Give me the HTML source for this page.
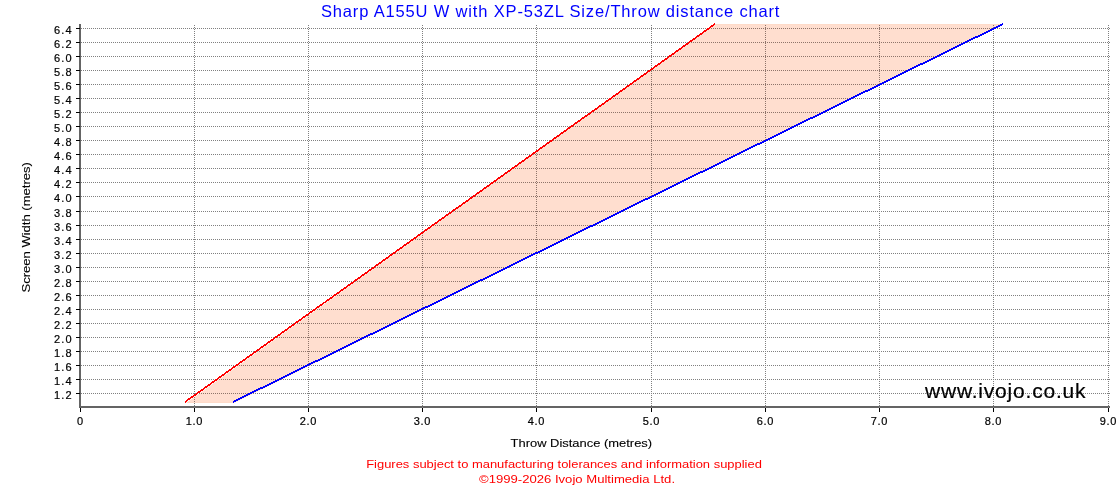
<!DOCTYPE html>
<html><head><meta charset="utf-8"><title>Throw distance chart</title>
<style>html,body{margin:0;padding:0;background:#fff;} body{width:1120px;height:500px;overflow:hidden;font-family:"Liberation Sans",sans-serif;} svg{display:block;will-change:transform;}</style>
</head><body>
<svg width="1120" height="500" viewBox="0 0 1120 500">
<defs>
<pattern id="hd" patternUnits="userSpaceOnUse" x="1" y="0" width="2" height="1"><rect x="0" y="0" width="1" height="1" fill="#808080"/></pattern>
<pattern id="vd" patternUnits="userSpaceOnUse" x="0" y="1" width="1" height="2"><rect x="0" y="0" width="1" height="1" fill="#808080"/></pattern>
<pattern id="hd2" patternUnits="userSpaceOnUse" x="1" y="0" width="2" height="1"><rect x="0" y="0" width="1" height="1" fill="#8e746a"/></pattern>
<pattern id="vd2" patternUnits="userSpaceOnUse" x="0" y="1" width="1" height="2"><rect x="0" y="0" width="1" height="1" fill="#8e746a"/></pattern>
<clipPath id="fc"><polygon points="186,403 715,24 1003,24 234,403"/></clipPath>
</defs>
<rect x="0" y="0" width="1120" height="500" fill="#ffffff"/>
<polygon points="186,403 715,24 1003,24 234,403" fill="#FFDECF"/>
<rect x="715" y="24" width="288" height="1" fill="#FEDBC9"/>
<rect x="187" y="402" width="47" height="1" fill="#FEDBC9"/>
<rect x="79" y="24" width="2" height="384" fill="#646464"/>
<rect x="79" y="406" width="1031" height="2" fill="#646464"/>
<g><rect x="81" y="393" width="1029" height="1" fill="url(#hd)"/><rect x="81" y="379" width="1029" height="1" fill="url(#hd)"/><rect x="81" y="365" width="1029" height="1" fill="url(#hd)"/><rect x="81" y="351" width="1029" height="1" fill="url(#hd)"/><rect x="81" y="337" width="1029" height="1" fill="url(#hd)"/><rect x="81" y="323" width="1029" height="1" fill="url(#hd)"/><rect x="81" y="309" width="1029" height="1" fill="url(#hd)"/><rect x="81" y="295" width="1029" height="1" fill="url(#hd)"/><rect x="81" y="281" width="1029" height="1" fill="url(#hd)"/><rect x="81" y="267" width="1029" height="1" fill="url(#hd)"/><rect x="81" y="253" width="1029" height="1" fill="url(#hd)"/><rect x="81" y="239" width="1029" height="1" fill="url(#hd)"/><rect x="81" y="225" width="1029" height="1" fill="url(#hd)"/><rect x="81" y="211" width="1029" height="1" fill="url(#hd)"/><rect x="81" y="196" width="1029" height="1" fill="url(#hd)"/><rect x="81" y="182" width="1029" height="1" fill="url(#hd)"/><rect x="81" y="168" width="1029" height="1" fill="url(#hd)"/><rect x="81" y="154" width="1029" height="1" fill="url(#hd)"/><rect x="81" y="140" width="1029" height="1" fill="url(#hd)"/><rect x="81" y="126" width="1029" height="1" fill="url(#hd)"/><rect x="81" y="112" width="1029" height="1" fill="url(#hd)"/><rect x="81" y="98" width="1029" height="1" fill="url(#hd)"/><rect x="81" y="84" width="1029" height="1" fill="url(#hd)"/><rect x="81" y="70" width="1029" height="1" fill="url(#hd)"/><rect x="81" y="56" width="1029" height="1" fill="url(#hd)"/><rect x="81" y="42" width="1029" height="1" fill="url(#hd)"/><rect x="81" y="28" width="1029" height="1" fill="url(#hd)"/><rect x="194" y="25" width="1" height="383" fill="url(#vd)"/><rect x="308" y="25" width="1" height="383" fill="url(#vd)"/><rect x="422" y="25" width="1" height="383" fill="url(#vd)"/><rect x="536" y="25" width="1" height="383" fill="url(#vd)"/><rect x="651" y="25" width="1" height="383" fill="url(#vd)"/><rect x="765" y="25" width="1" height="383" fill="url(#vd)"/><rect x="879" y="25" width="1" height="383" fill="url(#vd)"/><rect x="993" y="25" width="1" height="383" fill="url(#vd)"/><rect x="1108" y="25" width="1" height="383" fill="url(#vd)"/></g>
<g clip-path="url(#fc)"><rect x="81" y="393" width="1029" height="1" fill="url(#hd2)"/><rect x="81" y="379" width="1029" height="1" fill="url(#hd2)"/><rect x="81" y="365" width="1029" height="1" fill="url(#hd2)"/><rect x="81" y="351" width="1029" height="1" fill="url(#hd2)"/><rect x="81" y="337" width="1029" height="1" fill="url(#hd2)"/><rect x="81" y="323" width="1029" height="1" fill="url(#hd2)"/><rect x="81" y="309" width="1029" height="1" fill="url(#hd2)"/><rect x="81" y="295" width="1029" height="1" fill="url(#hd2)"/><rect x="81" y="281" width="1029" height="1" fill="url(#hd2)"/><rect x="81" y="267" width="1029" height="1" fill="url(#hd2)"/><rect x="81" y="253" width="1029" height="1" fill="url(#hd2)"/><rect x="81" y="239" width="1029" height="1" fill="url(#hd2)"/><rect x="81" y="225" width="1029" height="1" fill="url(#hd2)"/><rect x="81" y="211" width="1029" height="1" fill="url(#hd2)"/><rect x="81" y="196" width="1029" height="1" fill="url(#hd2)"/><rect x="81" y="182" width="1029" height="1" fill="url(#hd2)"/><rect x="81" y="168" width="1029" height="1" fill="url(#hd2)"/><rect x="81" y="154" width="1029" height="1" fill="url(#hd2)"/><rect x="81" y="140" width="1029" height="1" fill="url(#hd2)"/><rect x="81" y="126" width="1029" height="1" fill="url(#hd2)"/><rect x="81" y="112" width="1029" height="1" fill="url(#hd2)"/><rect x="81" y="98" width="1029" height="1" fill="url(#hd2)"/><rect x="81" y="84" width="1029" height="1" fill="url(#hd2)"/><rect x="81" y="70" width="1029" height="1" fill="url(#hd2)"/><rect x="81" y="56" width="1029" height="1" fill="url(#hd2)"/><rect x="81" y="42" width="1029" height="1" fill="url(#hd2)"/><rect x="81" y="28" width="1029" height="1" fill="url(#hd2)"/><rect x="194" y="25" width="1" height="383" fill="url(#vd2)"/><rect x="308" y="25" width="1" height="383" fill="url(#vd2)"/><rect x="422" y="25" width="1" height="383" fill="url(#vd2)"/><rect x="536" y="25" width="1" height="383" fill="url(#vd2)"/><rect x="651" y="25" width="1" height="383" fill="url(#vd2)"/><rect x="765" y="25" width="1" height="383" fill="url(#vd2)"/><rect x="879" y="25" width="1" height="383" fill="url(#vd2)"/><rect x="993" y="25" width="1" height="383" fill="url(#vd2)"/><rect x="1108" y="25" width="1" height="383" fill="url(#vd2)"/></g>
<polygon points="185,401.0 715,23.0 715,25.0 185,403.0" fill="#ff0000" shape-rendering="crispEdges"/>
<polygon points="233,401.0 1003,23.0 1003,25.0 233,403.0" fill="#0000ff" shape-rendering="crispEdges"/>
<rect x="76" y="393" width="4" height="1" fill="#000"/>
<rect x="76" y="379" width="4" height="1" fill="#000"/>
<rect x="76" y="365" width="4" height="1" fill="#000"/>
<rect x="76" y="351" width="4" height="1" fill="#000"/>
<rect x="76" y="337" width="4" height="1" fill="#000"/>
<rect x="76" y="323" width="4" height="1" fill="#000"/>
<rect x="76" y="309" width="4" height="1" fill="#000"/>
<rect x="76" y="295" width="4" height="1" fill="#000"/>
<rect x="76" y="281" width="4" height="1" fill="#000"/>
<rect x="76" y="267" width="4" height="1" fill="#000"/>
<rect x="76" y="253" width="4" height="1" fill="#000"/>
<rect x="76" y="239" width="4" height="1" fill="#000"/>
<rect x="76" y="225" width="4" height="1" fill="#000"/>
<rect x="76" y="211" width="4" height="1" fill="#000"/>
<rect x="76" y="196" width="4" height="1" fill="#000"/>
<rect x="76" y="182" width="4" height="1" fill="#000"/>
<rect x="76" y="168" width="4" height="1" fill="#000"/>
<rect x="76" y="154" width="4" height="1" fill="#000"/>
<rect x="76" y="140" width="4" height="1" fill="#000"/>
<rect x="76" y="126" width="4" height="1" fill="#000"/>
<rect x="76" y="112" width="4" height="1" fill="#000"/>
<rect x="76" y="98" width="4" height="1" fill="#000"/>
<rect x="76" y="84" width="4" height="1" fill="#000"/>
<rect x="76" y="70" width="4" height="1" fill="#000"/>
<rect x="76" y="56" width="4" height="1" fill="#000"/>
<rect x="76" y="42" width="4" height="1" fill="#000"/>
<rect x="76" y="28" width="4" height="1" fill="#000"/>
<rect x="80" y="408" width="1" height="4" fill="#000"/>
<rect x="194" y="408" width="1" height="4" fill="#000"/>
<rect x="308" y="408" width="1" height="4" fill="#000"/>
<rect x="422" y="408" width="1" height="4" fill="#000"/>
<rect x="536" y="408" width="1" height="4" fill="#000"/>
<rect x="651" y="408" width="1" height="4" fill="#000"/>
<rect x="765" y="408" width="1" height="4" fill="#000"/>
<rect x="879" y="408" width="1" height="4" fill="#000"/>
<rect x="993" y="408" width="1" height="4" fill="#000"/>
<rect x="1108" y="408" width="1" height="4" fill="#000"/>
<text x="71.70" y="399.00" font-family="&quot;Liberation Sans&quot;, sans-serif" font-size="11" text-anchor="end" fill="#000" stroke="#000" stroke-width="0.2" textLength="17.60" lengthAdjust="spacing">1.2</text>
<text x="71.70" y="385.00" font-family="&quot;Liberation Sans&quot;, sans-serif" font-size="11" text-anchor="end" fill="#000" stroke="#000" stroke-width="0.2" textLength="17.60" lengthAdjust="spacing">1.4</text>
<text x="71.70" y="371.00" font-family="&quot;Liberation Sans&quot;, sans-serif" font-size="11" text-anchor="end" fill="#000" stroke="#000" stroke-width="0.2" textLength="17.60" lengthAdjust="spacing">1.6</text>
<text x="71.70" y="357.00" font-family="&quot;Liberation Sans&quot;, sans-serif" font-size="11" text-anchor="end" fill="#000" stroke="#000" stroke-width="0.2" textLength="17.60" lengthAdjust="spacing">1.8</text>
<text x="71.70" y="343.00" font-family="&quot;Liberation Sans&quot;, sans-serif" font-size="11" text-anchor="end" fill="#000" stroke="#000" stroke-width="0.2" textLength="17.60" lengthAdjust="spacing">2.0</text>
<text x="71.70" y="329.00" font-family="&quot;Liberation Sans&quot;, sans-serif" font-size="11" text-anchor="end" fill="#000" stroke="#000" stroke-width="0.2" textLength="17.60" lengthAdjust="spacing">2.2</text>
<text x="71.70" y="315.00" font-family="&quot;Liberation Sans&quot;, sans-serif" font-size="11" text-anchor="end" fill="#000" stroke="#000" stroke-width="0.2" textLength="17.60" lengthAdjust="spacing">2.4</text>
<text x="71.70" y="301.00" font-family="&quot;Liberation Sans&quot;, sans-serif" font-size="11" text-anchor="end" fill="#000" stroke="#000" stroke-width="0.2" textLength="17.60" lengthAdjust="spacing">2.6</text>
<text x="71.70" y="287.00" font-family="&quot;Liberation Sans&quot;, sans-serif" font-size="11" text-anchor="end" fill="#000" stroke="#000" stroke-width="0.2" textLength="17.60" lengthAdjust="spacing">2.8</text>
<text x="71.70" y="273.00" font-family="&quot;Liberation Sans&quot;, sans-serif" font-size="11" text-anchor="end" fill="#000" stroke="#000" stroke-width="0.2" textLength="17.60" lengthAdjust="spacing">3.0</text>
<text x="71.70" y="259.00" font-family="&quot;Liberation Sans&quot;, sans-serif" font-size="11" text-anchor="end" fill="#000" stroke="#000" stroke-width="0.2" textLength="17.60" lengthAdjust="spacing">3.2</text>
<text x="71.70" y="245.00" font-family="&quot;Liberation Sans&quot;, sans-serif" font-size="11" text-anchor="end" fill="#000" stroke="#000" stroke-width="0.2" textLength="17.60" lengthAdjust="spacing">3.4</text>
<text x="71.70" y="231.00" font-family="&quot;Liberation Sans&quot;, sans-serif" font-size="11" text-anchor="end" fill="#000" stroke="#000" stroke-width="0.2" textLength="17.60" lengthAdjust="spacing">3.6</text>
<text x="71.70" y="217.00" font-family="&quot;Liberation Sans&quot;, sans-serif" font-size="11" text-anchor="end" fill="#000" stroke="#000" stroke-width="0.2" textLength="17.60" lengthAdjust="spacing">3.8</text>
<text x="71.70" y="202.00" font-family="&quot;Liberation Sans&quot;, sans-serif" font-size="11" text-anchor="end" fill="#000" stroke="#000" stroke-width="0.2" textLength="17.60" lengthAdjust="spacing">4.0</text>
<text x="71.70" y="188.00" font-family="&quot;Liberation Sans&quot;, sans-serif" font-size="11" text-anchor="end" fill="#000" stroke="#000" stroke-width="0.2" textLength="17.60" lengthAdjust="spacing">4.2</text>
<text x="71.70" y="174.00" font-family="&quot;Liberation Sans&quot;, sans-serif" font-size="11" text-anchor="end" fill="#000" stroke="#000" stroke-width="0.2" textLength="17.60" lengthAdjust="spacing">4.4</text>
<text x="71.70" y="160.00" font-family="&quot;Liberation Sans&quot;, sans-serif" font-size="11" text-anchor="end" fill="#000" stroke="#000" stroke-width="0.2" textLength="17.60" lengthAdjust="spacing">4.6</text>
<text x="71.70" y="146.00" font-family="&quot;Liberation Sans&quot;, sans-serif" font-size="11" text-anchor="end" fill="#000" stroke="#000" stroke-width="0.2" textLength="17.60" lengthAdjust="spacing">4.8</text>
<text x="71.70" y="132.00" font-family="&quot;Liberation Sans&quot;, sans-serif" font-size="11" text-anchor="end" fill="#000" stroke="#000" stroke-width="0.2" textLength="17.60" lengthAdjust="spacing">5.0</text>
<text x="71.70" y="118.00" font-family="&quot;Liberation Sans&quot;, sans-serif" font-size="11" text-anchor="end" fill="#000" stroke="#000" stroke-width="0.2" textLength="17.60" lengthAdjust="spacing">5.2</text>
<text x="71.70" y="104.00" font-family="&quot;Liberation Sans&quot;, sans-serif" font-size="11" text-anchor="end" fill="#000" stroke="#000" stroke-width="0.2" textLength="17.60" lengthAdjust="spacing">5.4</text>
<text x="71.70" y="90.00" font-family="&quot;Liberation Sans&quot;, sans-serif" font-size="11" text-anchor="end" fill="#000" stroke="#000" stroke-width="0.2" textLength="17.60" lengthAdjust="spacing">5.6</text>
<text x="71.70" y="76.00" font-family="&quot;Liberation Sans&quot;, sans-serif" font-size="11" text-anchor="end" fill="#000" stroke="#000" stroke-width="0.2" textLength="17.60" lengthAdjust="spacing">5.8</text>
<text x="71.70" y="62.00" font-family="&quot;Liberation Sans&quot;, sans-serif" font-size="11" text-anchor="end" fill="#000" stroke="#000" stroke-width="0.2" textLength="17.60" lengthAdjust="spacing">6.0</text>
<text x="71.70" y="48.00" font-family="&quot;Liberation Sans&quot;, sans-serif" font-size="11" text-anchor="end" fill="#000" stroke="#000" stroke-width="0.2" textLength="17.60" lengthAdjust="spacing">6.2</text>
<text x="71.70" y="34.00" font-family="&quot;Liberation Sans&quot;, sans-serif" font-size="11" text-anchor="end" fill="#000" stroke="#000" stroke-width="0.2" textLength="17.60" lengthAdjust="spacing">6.4</text>
<text x="80.00" y="425.00" font-family="&quot;Liberation Sans&quot;, sans-serif" font-size="11" text-anchor="middle" fill="#000" stroke="#000" stroke-width="0.2" textLength="6.84" lengthAdjust="spacing">0</text>
<text x="194.00" y="425.00" font-family="&quot;Liberation Sans&quot;, sans-serif" font-size="11" text-anchor="middle" fill="#000" stroke="#000" stroke-width="0.2" textLength="16.60" lengthAdjust="spacing">1.0</text>
<text x="308.00" y="425.00" font-family="&quot;Liberation Sans&quot;, sans-serif" font-size="11" text-anchor="middle" fill="#000" stroke="#000" stroke-width="0.2" textLength="16.60" lengthAdjust="spacing">2.0</text>
<text x="422.00" y="425.00" font-family="&quot;Liberation Sans&quot;, sans-serif" font-size="11" text-anchor="middle" fill="#000" stroke="#000" stroke-width="0.2" textLength="16.60" lengthAdjust="spacing">3.0</text>
<text x="536.00" y="425.00" font-family="&quot;Liberation Sans&quot;, sans-serif" font-size="11" text-anchor="middle" fill="#000" stroke="#000" stroke-width="0.2" textLength="16.60" lengthAdjust="spacing">4.0</text>
<text x="651.00" y="425.00" font-family="&quot;Liberation Sans&quot;, sans-serif" font-size="11" text-anchor="middle" fill="#000" stroke="#000" stroke-width="0.2" textLength="16.60" lengthAdjust="spacing">5.0</text>
<text x="765.00" y="425.00" font-family="&quot;Liberation Sans&quot;, sans-serif" font-size="11" text-anchor="middle" fill="#000" stroke="#000" stroke-width="0.2" textLength="16.60" lengthAdjust="spacing">6.0</text>
<text x="879.00" y="425.00" font-family="&quot;Liberation Sans&quot;, sans-serif" font-size="11" text-anchor="middle" fill="#000" stroke="#000" stroke-width="0.2" textLength="16.60" lengthAdjust="spacing">7.0</text>
<text x="993.00" y="425.00" font-family="&quot;Liberation Sans&quot;, sans-serif" font-size="11" text-anchor="middle" fill="#000" stroke="#000" stroke-width="0.2" textLength="16.60" lengthAdjust="spacing">8.0</text>
<text x="1108.00" y="425.00" font-family="&quot;Liberation Sans&quot;, sans-serif" font-size="11" text-anchor="middle" fill="#000" stroke="#000" stroke-width="0.2" textLength="16.60" lengthAdjust="spacing">9.0</text>
<text x="510.60" y="447.00" font-family="&quot;Liberation Sans&quot;, sans-serif" font-size="11" text-anchor="start" fill="#000" textLength="141.53" lengthAdjust="spacingAndGlyphs" stroke="#000" stroke-width="0.1">Throw Distance (metres)</text>
<text transform="translate(30.00,292.50) rotate(-90)" x="0" y="0" font-family="&quot;Liberation Sans&quot;, sans-serif" font-size="11" fill="#000" stroke="#000" stroke-width="0.1" textLength="130.35" lengthAdjust="spacingAndGlyphs">Screen Width (metres)</text>
<text x="321.00" y="17.00" font-family="&quot;Liberation Sans&quot;, sans-serif" font-size="16.5" text-anchor="start" fill="#0000ff" textLength="458.43" lengthAdjust="spacing">Sharp A155U W with XP-53ZL Size/Throw distance chart</text>
<text x="925.00" y="398.00" font-family="&quot;Liberation Sans&quot;, sans-serif" font-size="21" text-anchor="start" fill="#000" textLength="160.51" lengthAdjust="spacing" stroke="#000" stroke-width="0.2">www.ivojo.co.uk</text>
<text x="366.20" y="468.00" font-family="&quot;Liberation Sans&quot;, sans-serif" font-size="11" text-anchor="start" fill="#ff0000" textLength="395.71" lengthAdjust="spacingAndGlyphs">Figures subject to manufacturing tolerances and information supplied</text>
<text x="479.00" y="483.00" font-family="&quot;Liberation Sans&quot;, sans-serif" font-size="11" text-anchor="start" fill="#ff0000" textLength="196.05" lengthAdjust="spacingAndGlyphs">&#169;1999-2026 Ivojo Multimedia Ltd.</text>
</svg>
</body></html>
